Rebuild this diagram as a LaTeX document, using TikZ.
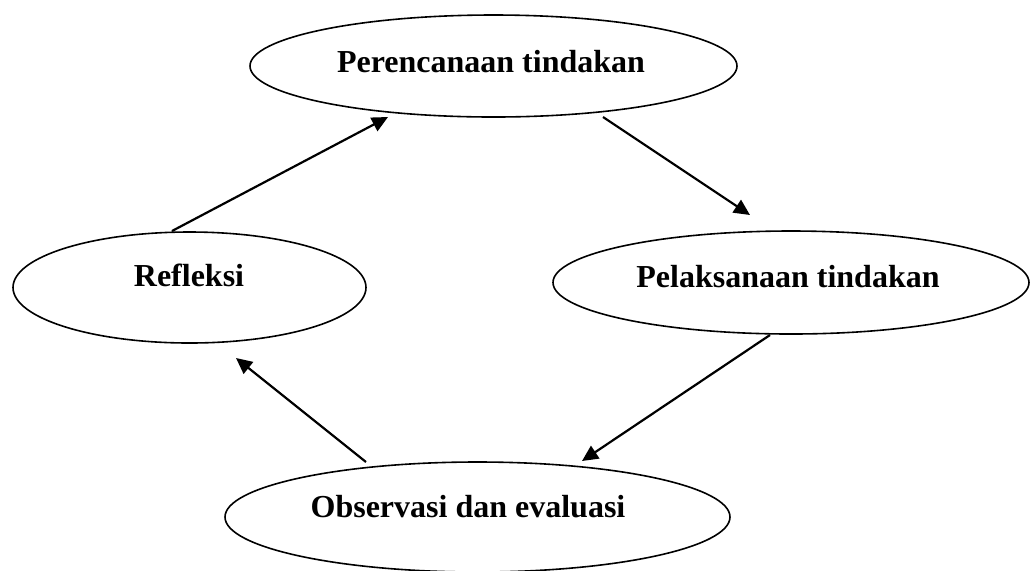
\documentclass[tikz,border=0pt]{standalone}
\usepackage{fontspec}
\setmainfont{Liberation Serif}
\usetikzlibrary{shapes.geometric,arrows.meta}
\tikzset{
  cyc/.style={draw=black, line width=0.8pt, ellipse, inner sep=0pt},
  lbl/.style={font=\bfseries\fontsize{16}{19}\selectfont, inner sep=0pt},
  arr/.style={line width=1.1pt, -{Triangle[length=8pt,width=7.5pt]}}
}
\begin{document}
\begin{tikzpicture}[x=0.5pt,y=-0.5pt]
\useasboundingbox (0,0) rectangle (1030,570);
\node[cyc, minimum width=243.5pt, minimum height=51pt] (plan) at (493.5,66) {};
\node[cyc, minimum width=176.5pt, minimum height=55.5pt] (refl) at (189.5,287.5) {};
\node[cyc, minimum width=238pt, minimum height=51.5pt] (pel) at (791,282.5) {};
\node[cyc, minimum width=252.5pt, minimum height=55pt] (obs) at (477.5,517) {};
\node[lbl] (tplan) at (491,62) {Perencanaan tindakan};
\node[lbl] (trefl) at (189,275) {Refleksi};
\node[lbl] (tpel) at (788,277) {Pelaksanaan tindakan};
\node[lbl] (tobs) at (468,507) {Observasi dan evaluasi};
\coordinate (a1s) at (172,231);
\coordinate (a1e) at (388,117);
\coordinate (a2s) at (603,117);
\coordinate (a2e) at (750,215);
\coordinate (a3s) at (770,335);
\coordinate (a3e) at (582,461);
\coordinate (a4s) at (366,462);
\coordinate (a4e) at (236,358);
\draw[arr] (a1s) -- (a1e);
\draw[arr] (a2s) -- (a2e);
\draw[arr] (a3s) -- (a3e);
\draw[arr] (a4s) -- (a4e);
\end{tikzpicture}
\end{document}
